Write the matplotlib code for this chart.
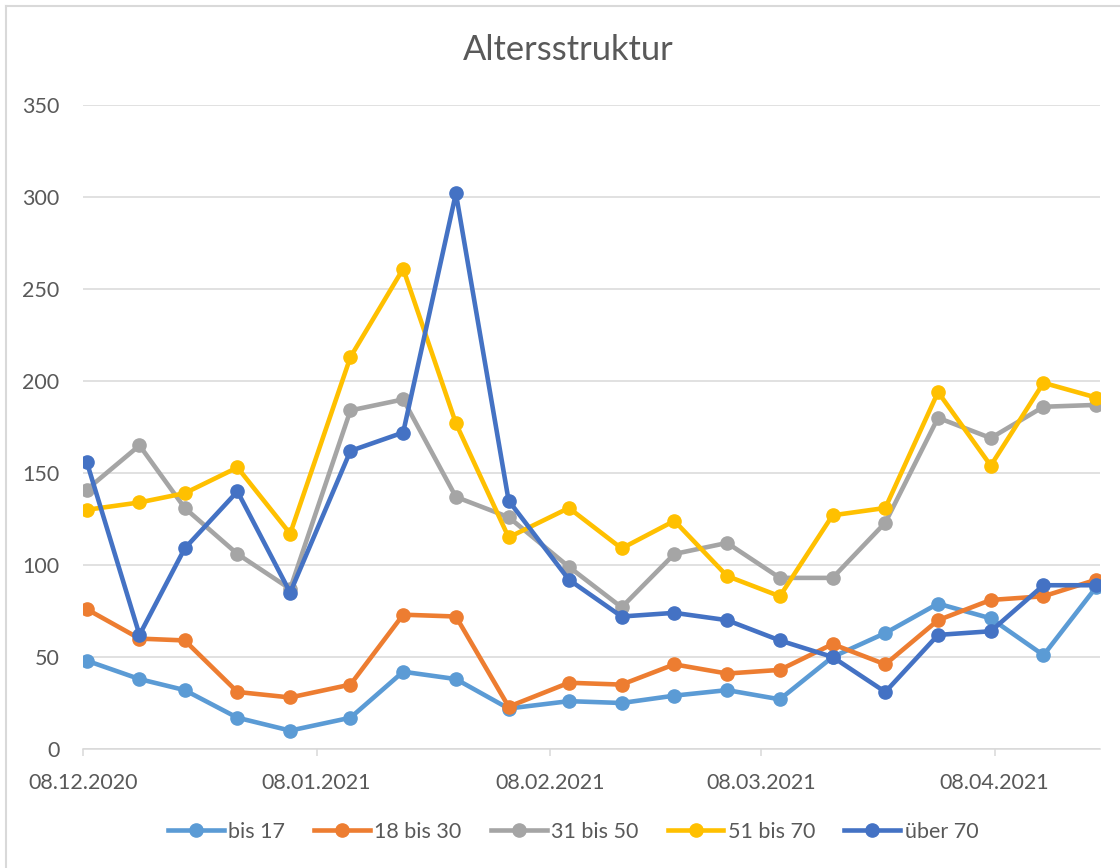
import datetime as dt
import matplotlib
matplotlib.use('Agg')
import matplotlib.pyplot as plt
import matplotlib.dates as mdates
from matplotlib.lines import Line2D

# Meldedaten (woechentlich)
dates = ["2020-12-08", "2020-12-15", "2020-12-21", "2020-12-28", "2021-01-04",
         "2021-01-12", "2021-01-19", "2021-01-26", "2021-02-02", "2021-02-10",
         "2021-02-17", "2021-02-24", "2021-03-03", "2021-03-10", "2021-03-17",
         "2021-03-24", "2021-03-31", "2021-04-07", "2021-04-14", "2021-04-21"]

bis_17 = [48, 38, 32, 17, 10, 17, 42, 38, 22, 26, 25, 29, 32, 27, 50, 63, 79, 71, 51, 88]
bis_30 = [76, 60, 59, 31, 28, 35, 73, 72, 23, 36, 35, 46, 41, 43, 57, 46, 70, 81, 83, 92]
bis_50 = [141, 165, 131, 106, 87, 184, 190, 137, 126, 99, 77, 106, 112, 93, 93, 123, 180, 169, 186, 187]
bis_70 = [130, 134, 139, 153, 117, 213, 261, 177, 115, 131, 109, 124, 94, 83, 127, 131, 194, 154, 199, 191]
ueber_70 = [156, 62, 109, 140, 85, 162, 172, 302, 135, 92, 72, 74, 70, 59, 50, 31, 62, 64, 89, 89]

series_labels = ["bis 17", "18 bis 30", "31 bis 50", "51 bis 70", "über 70"]
colors = ["#5B9BD5", "#ED7D31", "#A5A5A5", "#FFC000", "#4472C4"]

month_ticks = ["2020-12-08", "2021-01-08", "2021-02-08", "2021-03-08", "2021-04-08"]
yticks = [0, 50, 100, 150, 200, 250, 300, 350]

plt.rcParams['font.family'] = ['Lato', 'DejaVu Sans']
text_color = "#595959"
grid_color = "#D9D9D9"
fs = 15.5

# Excel places points in the middle of the day
x = [dt.datetime.strptime(d, "%Y-%m-%d") + dt.timedelta(hours=12) for d in dates]
tick_dates = [dt.datetime.strptime(d, "%Y-%m-%d") for d in month_ticks]

fig = plt.figure(figsize=(11.2, 8.68), dpi=100)
ax = fig.add_axes([83 / 1120, 1 - 749 / 868, (1100 - 83) / 1120, (749 - 105) / 868])

all_series = [bis_17, bis_30, bis_50, bis_70, ueber_70]
for vals, lab, col in zip(all_series, series_labels, colors):
    ax.plot(x, vals, color=col, lw=3.3, marker='o', markersize=9.5,
            solid_joinstyle='round', label=lab)

ax.set_xlim(dt.datetime(2020, 12, 8), dt.datetime(2021, 4, 22))
ax.set_ylim(0, 350)
ax.set_yticks(yticks)
ax.set_xticks(tick_dates)
ax.xaxis.set_major_formatter(mdates.DateFormatter("%d.%m.%Y"))

ax.grid(axis='y', color=grid_color, lw=1.1)
ax.set_axisbelow(True)
for side in ['top', 'right', 'left']:
    ax.spines[side].set_visible(False)
ax.spines['bottom'].set_color(grid_color)
ax.spines['bottom'].set_linewidth(1.1)

ax.tick_params(axis='y', length=0, pad=17, labelsize=fs, labelcolor=text_color)
ax.tick_params(axis='x', length=5, width=1.1, color=grid_color, pad=12,
               labelsize=fs, labelcolor=text_color)

fig.text(568 / 1120, 1 - 50 / 868, "Altersstruktur", ha='center', va='center',
         fontsize=24.8, color=text_color)

handles = [Line2D([0], [0], color=c, lw=3.3, marker='o', markersize=9.5) for c in colors]
fig.legend(handles, series_labels, loc='center', bbox_to_anchor=(573 / 1120, 1 - 832 / 868),
           ncol=5, frameon=False, fontsize=fs, labelcolor=text_color,
           handlelength=2.6, handletextpad=0.2, columnspacing=1.35)

# chart area border (only left and top edge are visible)
fig.add_artist(Line2D([6 / 1120, 6 / 1120], [0, 1 - 6 / 868], color=grid_color, lw=1.5))
fig.add_artist(Line2D([6 / 1120, 1], [1 - 6 / 868, 1 - 6 / 868], color=grid_color, lw=1.5))

fig.savefig("out.png", dpi=100)
plt.close(fig)
